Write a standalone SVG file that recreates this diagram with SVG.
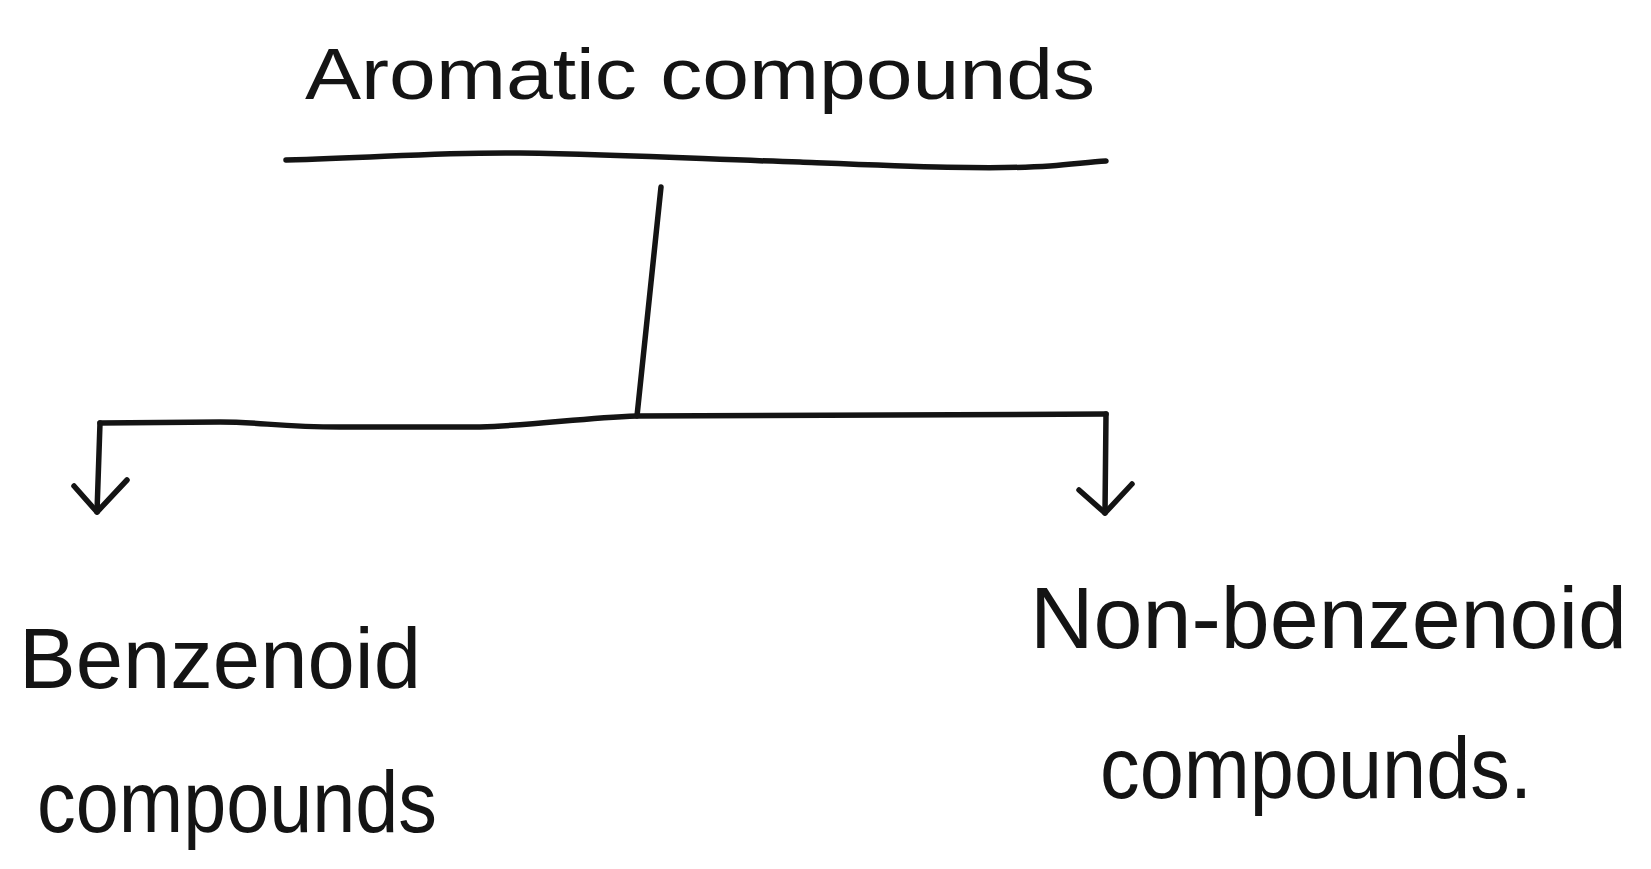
<svg xmlns="http://www.w3.org/2000/svg" width="1651" height="869" viewBox="0 0 1651 869">
<style>
.t{font-family:"Liberation Sans","DejaVu Sans",sans-serif;fill:#141414;}
.ln{fill:none;stroke:#141414;stroke-width:5.5;stroke-linecap:round;stroke-linejoin:round;}
</style>
<rect width="1651" height="869" fill="#ffffff"/>
<g id="root">
<text class="t" x="305" y="99" font-size="72" textLength="790" lengthAdjust="spacingAndGlyphs">Aromatic compounds</text>
<path class="ln" d="M286,160 C380,158 430,152 520,153 C640,155 720,160 800,162 C900,166 990,170 1050,166 C1075,164 1090,162 1106,161"/>
</g>
<g id="connectors">
<path class="ln" d="M661,187 L637,416"/>
<path class="ln" d="M100,423 L220,422 C260,422 280,427 340,427 L480,427 C540,425 580,418 637,416 L1106,414"/>
<path class="ln" d="M100,423 L97,512"/>
<path class="ln" d="M74,486 L97,512 L127,480"/>
<path class="ln" d="M1106,414 L1105,513"/>
<path class="ln" d="M1079,490 L1105,513 L1132,484"/>
</g>
<g id="benzenoid">
<text class="t" x="19" y="688" font-size="86" textLength="402" lengthAdjust="spacingAndGlyphs">Benzenoid</text>
<text class="t" x="37" y="832" font-size="88" textLength="400" lengthAdjust="spacingAndGlyphs">compounds</text>
</g>
<g id="non-benzenoid">
<text class="t" x="1030" y="648" font-size="88" textLength="597" lengthAdjust="spacingAndGlyphs">Non-benzenoid</text>
<text class="t" x="1100" y="798" font-size="88" textLength="432" lengthAdjust="spacingAndGlyphs">compounds.</text>
</g>
</svg>
